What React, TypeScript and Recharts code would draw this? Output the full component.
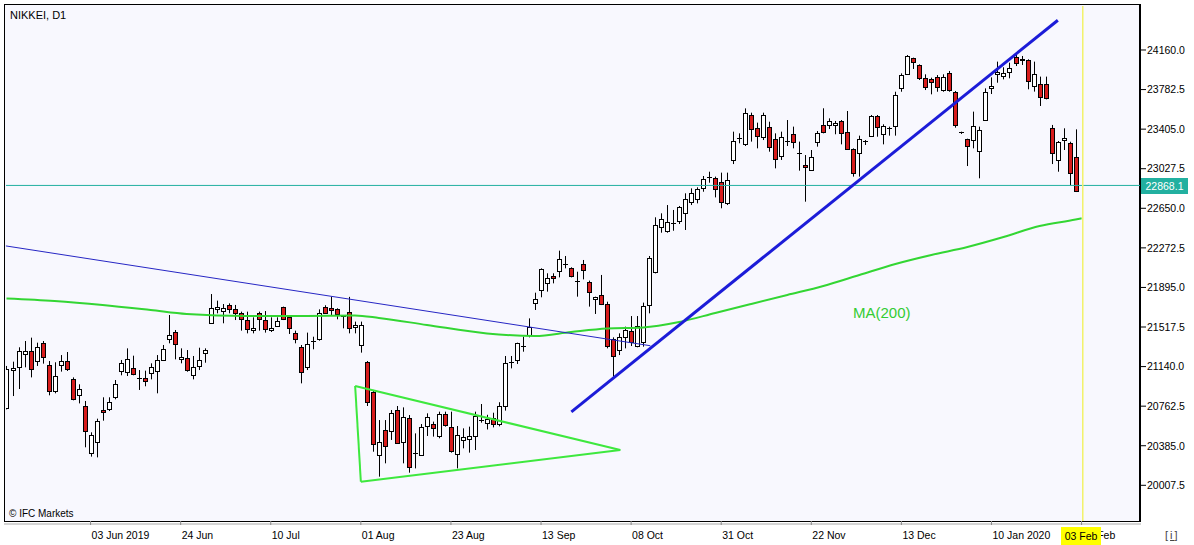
import React from 'react';
import { ComposedChart, Bar, Line, XAxis, YAxis, ReferenceLine } from 'recharts';

// Daily candles: [open, high, low, close]
const candles: [number, number, number, number][] = [
  [20742, 21146, 20732, 21114], [21104, 21187, 20859, 21126], [21133, 21324, 20926, 21285], [21257, 21384, 21133, 21285],
  [21285, 21416, 21037, 21114], [21190, 21368, 21146, 21324], [21368, 21384, 21168, 21231], [21152, 21193, 20866, 20904],
  [20904, 21181, 20885, 21047], [21152, 21250, 21092, 21193], [21193, 21279, 21098, 21114], [21018, 21037, 20818, 20828],
  [20866, 20971, 20789, 20923], [20761, 20812, 20370, 20522], [20312, 20513, 20281, 20484], [20417, 20643, 20274, 20618],
  [20723, 20847, 20624, 20704], [20732, 20847, 20716, 20799], [20847, 21012, 20828, 20971], [21095, 21203, 21057, 21171],
  [21088, 21314, 21050, 21209], [21123, 21244, 21057, 21066], [21030, 21107, 20917, 21031], [21028, 21101, 20952, 21002],
  [21079, 21171, 21018, 21133], [21095, 21250, 20885, 21203], [21203, 21346, 21193, 21305], [21400, 21632, 21362, 21441],
  [21467, 21489, 21209, 21352], [21209, 21314, 21171, 21228], [21219, 21298, 21091, 21101], [21060, 21241, 21018, 21133],
  [21146, 21320, 21107, 21203], [21266, 21314, 21177, 21298], [21553, 21832, 21549, 21696], [21686, 21769, 21648, 21705],
  [21670, 21737, 21553, 21696], [21728, 21743, 21648, 21686], [21686, 21728, 21584, 21648], [21648, 21664, 21483, 21591],
  [21584, 21664, 21457, 21495], [21483, 21610, 21457, 21505], [21648, 21664, 21483, 21591], [21584, 21670, 21464, 21495],
  [21483, 21610, 21470, 21505], [21530, 21610, 21521, 21575], [21705, 21712, 21584, 21591], [21616, 21632, 21451, 21514],
  [21464, 21483, 21362, 21410], [21324, 21346, 20980, 21082], [21133, 21464, 21107, 21352], [21380, 21425, 21305, 21385],
  [21400, 21686, 21387, 21648], [21712, 21725, 21648, 21654], [21696, 21808, 21632, 21673], [21686, 21696, 21591, 21642],
  [21618, 21632, 21505, 21614], [21664, 21805, 21457, 21514], [21514, 21569, 21457, 21537], [21346, 21569, 21273, 21537],
  [21187, 21193, 20764, 20805], [20901, 20917, 20328, 20408], [20296, 20630, 20090, 20424], [20535, 20630, 20217, 20386],
  [20519, 20726, 20440, 20694], [20726, 20764, 20408, 20414], [20414, 20751, 20217, 20656], [20646, 20678, 20128, 20179],
  [20313, 20503, 20169, 20316], [20296, 20592, 20287, 20560], [20567, 20694, 20478, 20656], [20592, 20615, 20472, 20557],
  [20472, 20710, 20456, 20684], [20684, 20710, 20567, 20583], [20560, 20710, 20319, 20328], [20303, 20573, 20169, 20487],
  [20446, 20551, 20360, 20471], [20456, 20567, 20319, 20481], [20481, 20710, 20344, 20668], [20620, 20783, 20605, 20627],
  [20600, 20680, 20540, 20640], [20650, 20700, 20560, 20590], [20590, 20800, 20570, 20760], [20760, 21241, 20720, 21171],
  [21180, 21241, 21123, 21187], [21196, 21368, 21165, 21362], [21336, 21425, 21282, 21340], [21444, 21600, 21419, 21521],
  [21743, 21845, 21680, 21782], [21864, 22077, 21801, 22068], [21934, 22030, 21855, 21982], [22004, 22030, 21934, 21988],
  [22045, 22246, 21991, 22163], [22115, 22195, 22077, 22119], [22077, 22087, 21991, 22004], [21960, 22045, 21807, 21958],
  [22119, 22157, 21972, 22061], [21950, 21960, 21712, 21855], [21782, 21807, 21642, 21801], [21823, 22014, 21727, 21737],
  [21737, 21759, 21314, 21336], [21400, 21419, 21044, 21235], [21298, 21457, 21250, 21425], [21425, 21521, 21314, 21489],
  [21483, 21622, 21336, 21378], [21336, 21622, 21324, 21527], [21378, 21750, 21330, 21718], [21727, 22195, 21648, 22173],
  [22045, 22564, 22029, 22491], [22468, 22602, 22417, 22545], [22436, 22681, 22417, 22522], [22510, 22634, 22436, 22513],
  [22522, 22672, 22500, 22659], [22602, 22793, 22443, 22735], [22704, 22840, 22681, 22793], [22735, 22850, 22697, 22831],
  [22840, 22958, 22808, 22926], [22945, 22999, 22894, 22948], [22936, 22952, 22754, 22831], [22898, 22990, 22650, 22704],
  [22704, 22990, 22681, 22920], [23104, 23381, 23072, 23289], [23315, 23365, 23270, 23318], [23270, 23603, 23244, 23562],
  [23540, 23562, 23286, 23403], [23413, 23467, 23222, 23333], [23327, 23562, 23301, 23540], [23422, 23476, 23190, 23231],
  [23308, 23365, 23031, 23117], [23149, 23381, 23111, 23327], [23285, 23492, 23244, 23290], [23359, 23429, 23222, 23286],
  [23175, 23286, 23009, 23170], [23063, 23158, 22713, 23041], [23009, 23206, 23006, 23136], [23279, 23387, 23238, 23365],
  [23444, 23604, 23365, 23375], [23444, 23508, 23406, 23483], [23444, 23483, 23356, 23464], [23483, 23492, 23260, 23365],
  [23375, 23578, 23206, 23216], [23216, 23222, 22952, 22983], [23174, 23343, 22952, 23308], [23283, 23301, 23254, 23288],
  [23343, 23540, 23333, 23530], [23530, 23540, 23333, 23422], [23355, 23451, 23260, 23435], [23410, 23429, 23343, 23413],
  [23435, 23762, 23343, 23731], [23794, 23937, 23762, 23921], [23937, 24112, 23928, 24106], [24080, 24087, 23979, 24042],
  [24017, 24023, 23874, 23890], [23896, 23928, 23778, 23810], [23883, 23896, 23737, 23851], [23906, 23921, 23762, 23810],
  [23778, 23928, 23762, 23906], [23937, 23960, 23762, 23778], [23756, 23769, 23419, 23438], [23375, 23381, 23359, 23378],
  [23308, 23314, 23053, 23238], [23301, 23572, 23222, 23435], [23200, 23429, 22936, 23397], [23492, 23794, 23486, 23763],
  [23794, 23899, 23740, 23817], [23937, 24049, 23848, 23953], [23912, 23995, 23880, 23937], [23944, 24039, 23890, 23985],
  [24090, 24112, 24007, 24033], [24071, 24103, 24017, 24058], [24065, 24071, 23785, 23868], [23817, 24049, 23763, 23931],
  [23836, 23906, 23626, 23708], [23836, 23906, 23689, 23699], [23413, 23445, 23072, 23174], [23117, 23292, 22999, 23286],
  [23295, 23413, 23206, 23317], [23270, 23285, 22872, 22983], [23136, 23403, 22805, 22810],
];

// MA(200) readings at sampled bar positions
const maIndex = [0, 8, 16, 24, 30, 40, 50, 58, 62, 70, 80, 88, 94, 100, 106, 112, 118, 124, 130, 136, 142, 148, 154, 160, 166, 172, 178, 179];
const maValues = [21790, 21766, 21728, 21680, 21642, 21623, 21623, 21627, 21604, 21537, 21456, 21432, 21470, 21503, 21513, 21565, 21651, 21737, 21823, 21909, 22014, 22119, 22205, 22281, 22376, 22481, 22543, 22555];

const yTicks = [24160, 23782.5, 23405, 23027.5, 22650, 22272.5, 21895, 21517.5, 21140, 20762.5, 20385, 20007.5];
const xTickIndex = [14, 29, 44, 59, 74, 89, 104, 119, 134, 149, 164, 179];
const xTickLabels = ['03 Jun 2019', '24 Jun', '10 Jul', '01 Aug', '23 Aug', '13 Sep', '08 Oct', '31 Oct', '22 Nov', '13 Dec', '10 Jan 2020', '03 Feb'];

const bidPrice = 22868.1;
const currentBar = 179.2;

const thinTrend = [{ x: -0.1, y: 22291 }, { x: 107.2, y: 21339 }];
const thickTrend = [{ x: 94.05, y: 20708 }, { x: 175.05, y: 24444 }];
const triangleTop = { x: 58.05, y: 20955 };
const triangleBottom = { x: 59.0, y: 20042 };
const triangleTip = { x: 102.2, y: 20344 };

const data = candles.map(([o, h, l, c], i) => ({ i, o, h, l, c, range: [l, h] }));
const maData = maIndex.map((i, k) => ({ i, v: maValues[k] }));

const STEP = 6.006;
const X_MIN = -0.5 / STEP;
const X_MAX = X_MIN + 1134 / STEP;
const FONT = '"Liberation Sans", Arial, sans-serif';

const CandleShape = (props: any) => {
  const { x, y, width, height, payload } = props;
  if (!payload) return null;
  const { o, h, l, c } = payload;
  const top0 = height >= 0 ? y : y + height;
  const hh = Math.abs(height);
  const cx = Math.floor(x + width / 2) + 0.5;
  const k = hh / (h - l);
  const yO = top0 + (h - o) * k;
  const yC = top0 + (h - c) * k;
  const top = Math.min(yO, yC);
  const bot = Math.max(yO, yC);
  const bull = c >= o;
  const doji = bot - top < 1.2;
  return (
    <g>
      <line x1={cx} x2={cx} y1={top0} y2={top0 + hh} stroke="#000" strokeWidth={1} />
      {doji ? (
        <line x1={cx - 2.5} x2={cx + 2.5} y1={Math.round(top) + 0.5} y2={Math.round(top) + 0.5} stroke="#000" strokeWidth={1} />
      ) : (
        <rect x={cx - 2} y={Math.round(top) + 0.5} width={4} height={Math.max(1, Math.round(bot - top))} fill={bull ? '#ffffff' : '#d71c1c'} stroke="#000" strokeWidth={1} />
      )}
    </g>
  );
};

const XTick = (props: any) => {
  const { x, y, payload } = props;
  const idx = xTickIndex.indexOf(payload.value);
  return (
    <text x={x + 1} y={y} dy="0.71em" textAnchor="start" fill="#000" fontSize={10.5} fontFamily={FONT}>
      {idx >= 0 ? xTickLabels[idx] : ''}
    </text>
  );
};

const YTick = (props: any) => {
  const { x, y, payload } = props;
  return (
    <text x={x} y={y} dy="0.36em" textAnchor="start" fill="#000" fontSize={10.5} fontFamily={FONT}>
      {Number(payload.value).toFixed(1)}
    </text>
  );
};

export default function App() {
  return (
    <div style={{ position: 'absolute', left: 0, top: 0, width: 1194, height: 545, background: '#fff', fontFamily: FONT }}>
      <div
        style={{
          position: 'absolute', left: 4, top: 4, width: 1137, height: 518, boxSizing: 'border-box',
          background: '#f8f8fe', borderLeft: '1px solid #000', borderTop: '1px solid #000',
          borderBottom: '1px solid #000', borderRight: '2px solid #000',
        }}
      />
      <div style={{ position: 'absolute', left: 4, top: 523, width: 1137, height: 2, background: '#d4d4d4' }} />
      <div style={{ position: 'absolute', left: 0, top: 0 }}>
        <ComposedChart width={1194} height={545} data={data} margin={{ top: 6, left: 6, right: 0, bottom: 0 }}>
          <XAxis
            dataKey="i" type="number" domain={[X_MIN, X_MAX]} allowDataOverflow ticks={xTickIndex} interval={0}
            tick={<XTick />} tickLine={{ stroke: '#888' }} tickSize={4} tickMargin={7} axisLine={false} height={24}
          />
          <YAxis
            orientation="right" type="number" domain={[19667, 24579.7]} allowDataOverflow ticks={yTicks} interval={0}
            tick={<YTick />} tickLine={{ stroke: '#000' }} tickSize={6} tickMargin={1} axisLine={false} width={54}
          />
          <ReferenceLine y={bidPrice} stroke="#22b0a0" strokeWidth={1} ifOverflow="visible" />
          <ReferenceLine x={currentBar} stroke="#f2f26a" strokeWidth={1.5} ifOverflow="visible" />
          <Line data={maData} dataKey="v" type="monotone" stroke="#33d633" strokeWidth={2} dot={false} isAnimationActive={false} />
          <ReferenceLine segment={thinTrend} stroke="#2626c4" strokeWidth={1} ifOverflow="visible" />
          <ReferenceLine segment={[triangleTop, triangleTip]} stroke="#3ee83e" strokeWidth={2} ifOverflow="visible" />
          <ReferenceLine segment={[triangleTip, triangleBottom]} stroke="#3ee83e" strokeWidth={2} ifOverflow="visible" />
          <ReferenceLine segment={[triangleBottom, triangleTop]} stroke="#3ee83e" strokeWidth={2} ifOverflow="visible" />
          <Bar dataKey="range" barSize={5} shape={<CandleShape />} isAnimationActive={false} />
          <ReferenceLine segment={thickTrend} stroke="#1c1cd8" strokeWidth={3} ifOverflow="visible" />
        </ComposedChart>
      </div>
      <div style={{ position: 'absolute', left: 10, top: 9, fontSize: 11, color: '#000', lineHeight: '13px' }}>NIKKEI, D1</div>
      <div style={{ position: 'absolute', left: 9, top: 508, fontSize: 10, color: '#000', lineHeight: '12px' }}>© IFC Markets</div>
      <div style={{ position: 'absolute', left: 853, top: 304, fontSize: 15, color: '#33cc33', lineHeight: '18px' }}>MA(200)</div>
      <div
        style={{
          position: 'absolute', left: 1141, top: 178, width: 47, height: 16, background: '#22b0a0', color: '#fff',
          fontSize: 10.5, lineHeight: '16px', textAlign: 'center',
        }}
      >
        22868.1
      </div>
      <div
        style={{
          position: 'absolute', left: 1061, top: 527, width: 40, height: 18, background: '#ffff00', color: '#000',
          fontSize: 10.5, lineHeight: '18px', textAlign: 'center',
        }}
      >
        03 Feb
      </div>
      <div style={{ position: 'absolute', left: 1165, top: 527, fontSize: 11, color: '#444', lineHeight: '16px', letterSpacing: 2 }}>
        [<span style={{ textDecoration: 'underline' }}>i</span>]
      </div>
    </div>
  );
}
